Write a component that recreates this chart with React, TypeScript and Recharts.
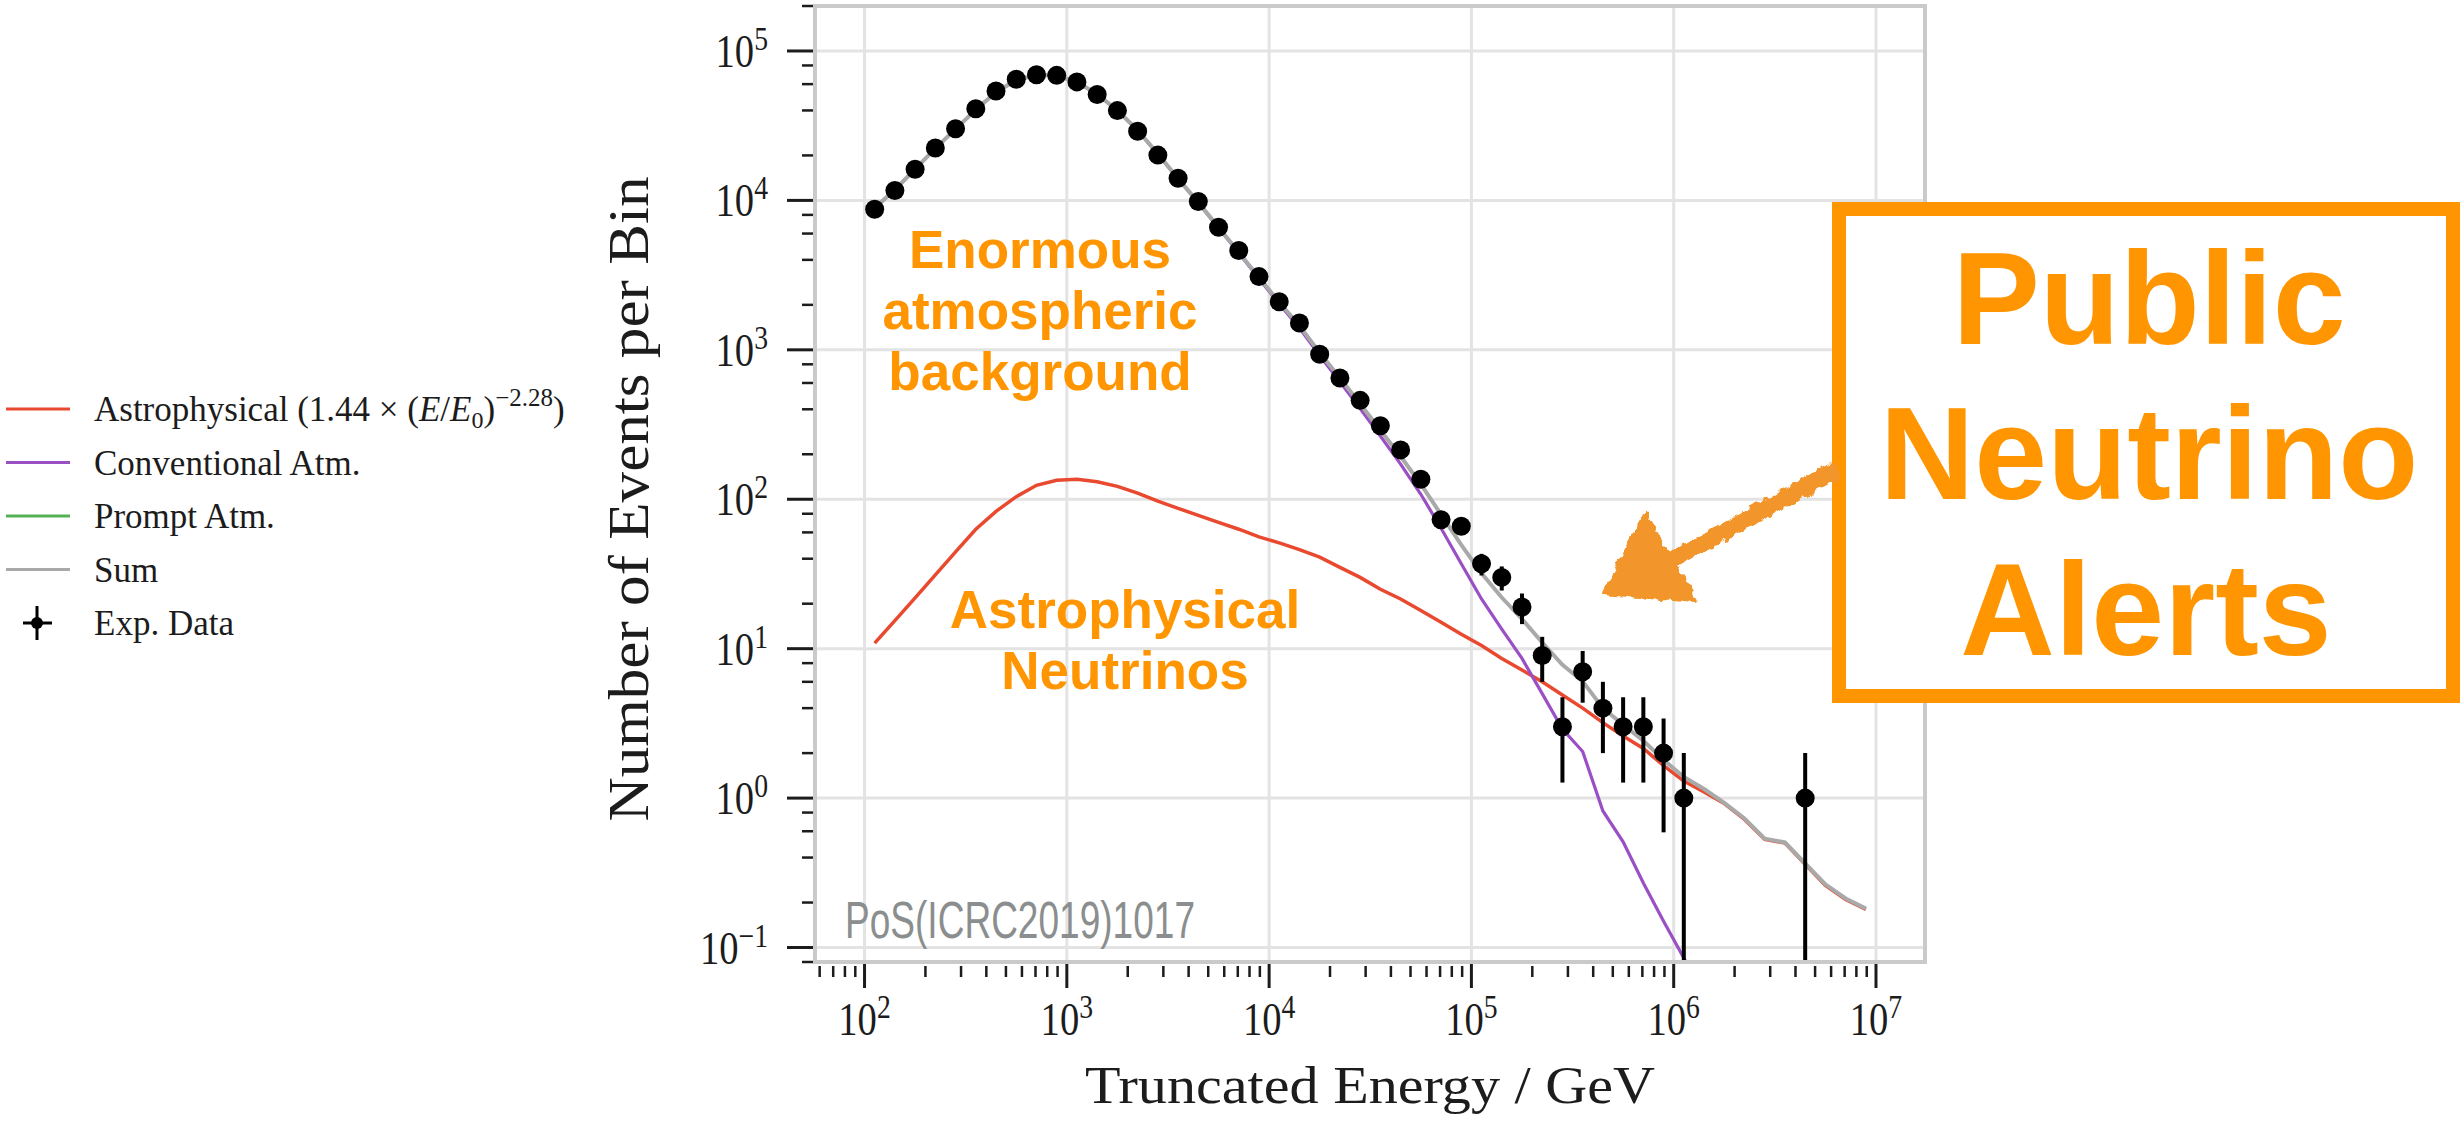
import React from "react";
import {
  ComposedChart,
  Line,
  Scatter,
  ErrorBar,
  XAxis,
  YAxis,
  CartesianGrid,
} from "recharts";

// log10 of the bin centres (GeV), 0.1-decade bins
const binLog = [
  2.05, 2.15, 2.25, 2.35, 2.45, 2.55, 2.65, 2.75, 2.85, 2.95,
  3.05, 3.15, 3.25, 3.35, 3.45, 3.55, 3.65, 3.75, 3.85, 3.95,
  4.05, 4.15, 4.25, 4.35, 4.45, 4.55, 4.65, 4.75, 4.85, 4.95,
  5.05, 5.15, 5.25, 5.35, 5.45, 5.55, 5.65, 5.75, 5.85, 5.95,
  6.05, 6.15, 6.25, 6.35, 6.45, 6.55, 6.65, 6.75, 6.85, 6.95,
];

const astroCounts = [
  10.9, 15.4, 21.9, 31.2, 44.4, 63, 83, 104, 124, 134,
  136, 131, 122, 110, 97, 87, 78, 70, 63, 56,
  51, 46, 41, 35, 30, 25, 21.5, 18, 15, 12.5,
  10.5, 8.6, 7.2, 6.0, 4.9, 4.0, 3.2, 2.6, 2.15, 1.65,
  1.3, 1.1, 0.92, 0.72, 0.53, 0.5, 0.36, 0.26, 0.21, 0.18,
];

// conventional atmospheric, runs off the bottom of the plot after 10^6
const convCounts = [
  8890, 11780, 16180, 22270, 29960, 40440, 52920, 63900, 68880, 68370,
  61870, 51370, 39880, 29390, 20400, 13910, 9620, 6530, 4440, 2990,
  2030, 1400, 915, 612, 405, 265, 172, 108, 64, 37,
  21.5, 13.5, 8.6, 5.0, 2.9, 2.05, 0.82, 0.51, 0.27, 0.15,
  0.085, 0.05,
];

const sumCounts = [
  8900, 11800, 16200, 22300, 30000, 40500, 53000, 64000, 69000, 68500,
  62000, 51500, 40000, 29500, 20500, 14000, 9700, 6600, 4500, 3050,
  2080, 1450, 956, 647, 435, 290, 194, 126, 79, 49.5,
  32, 22, 15.8, 11, 7.8, 6.05, 4.0, 3.1, 2.42, 1.8,
  1.385, 1.15, 0.93, 0.73, 0.535, 0.505, 0.365, 0.265, 0.213, 0.182,
];

const expLog = [
  2.05, 2.15, 2.25, 2.35, 2.45, 2.55, 2.65, 2.75, 2.85, 2.95,
  3.05, 3.15, 3.25, 3.35, 3.45, 3.55, 3.65, 3.75, 3.85, 3.95,
  4.05, 4.15, 4.25, 4.35, 4.45, 4.55, 4.65, 4.75, 4.85, 4.95,
  5.05, 5.15, 5.25, 5.35, 5.45, 5.55, 5.65, 5.75, 5.85, 5.95,
  6.05, 6.65,
];

const expCounts = [
  8730, 11640, 16180, 22440, 30200, 41100, 54000, 64700, 69400, 68700,
  62100, 51100, 39900, 29000, 20100, 14060, 9820, 6620, 4620, 3090,
  2100, 1510, 935, 647, 459, 310, 214, 136, 73, 66,
  37, 30, 19, 9, 3, 7, 4, 3, 3, 2,
  1, 1,
];

// error bars (down / up); hidden under the dots for the big bins
const expErrLow = [
  0, 0, 0, 0, 0, 0, 0, 0, 0, 0,
  0, 0, 0, 0, 0, 0, 0, 0, 0, 0,
  0, 0, 0, 0, 0, 0, 0, 0, 8.5, 8.1,
  6.1, 5.5, 4.4, 3.0, 1.73, 2.65, 2.0, 1.73, 1.73, 1.41,
  0.92, 0.92,
];
const expErrHigh = [
  0, 0, 0, 0, 0, 0, 0, 0, 0, 0,
  0, 0, 0, 0, 0, 0, 0, 0, 0, 0,
  0, 0, 0, 0, 0, 0, 0, 0, 8.5, 8.1,
  6.1, 5.5, 4.4, 3.0, 1.73, 2.65, 2.0, 1.73, 1.73, 1.41,
  1.0, 1.0,
];

const xMajorTicks = [1e2, 1e3, 1e4, 1e5, 1e6, 1e7];
const yMajorTicks = [1e-1, 1, 1e1, 1e2, 1e3, 1e4, 1e5];
const xMinorSubs = [2, 3, 4, 5, 6, 7, 8, 9];
const yMinorSubs = [2, 4, 6, 8];

const xDomain = [56.9, 1.747e7];
const yDomain = [0.08, 2e5];

const RED = "#e9492f";
const PURPLE = "#9a4fc4";
const GREEN = "#55b155";
const GRAY = "#a9a9a9";
const ORANGE = "#ff9500";
const INK = "#1c1c1c";
const SERIF = "'Liberation Serif', 'Times New Roman', serif";
const SANS = "'Liberation Sans', Arial, sans-serif";

function minorTicks(subs: number[], from: number, to: number, dom: number[]) {
  const out: number[] = [];
  for (let d = from; d <= to; d++) {
    for (const s of subs) {
      const v = s * Math.pow(10, d);
      if (v >= dom[0] * 0.999 && v <= dom[1] * 1.001) out.push(v);
    }
  }
  return out;
}

const xTicks = [...xMajorTicks, ...minorTicks(xMinorSubs, 1, 7, xDomain)].sort((a, b) => a - b);
const yTicks = [...yMajorTicks, ...minorTicks(yMinorSubs, -2, 5, yDomain)].sort((a, b) => a - b);

function isMajor(v: number) {
  const l = Math.log10(v);
  return Math.abs(l - Math.round(l)) < 1e-6;
}

function expText(v: number) {
  const e = Math.round(Math.log10(v));
  return e < 0 ? "\u2212" + Math.abs(e) : String(e);
}

function XTick(props: any) {
  const { x, y, payload } = props;
  const v = payload.value;
  if (!isMajor(v)) {
    return <line x1={x} x2={x} y1={y + 4} y2={y + 15} stroke={INK} strokeWidth={2.5} />;
  }
  return (
    <g>
      <line x1={x} x2={x} y1={y} y2={y + 26} stroke={INK} strokeWidth={3} />
      <g transform={`translate(${x},${y + 73}) scale(0.84,1)`}>
        <text textAnchor="middle" fontFamily={SERIF} fontSize={46} fill={INK}>
          10
          <tspan dy={-17} fontSize={33}>
            {expText(v)}
          </tspan>
        </text>
      </g>
    </g>
  );
}

function YTick(props: any) {
  const { x, y, payload } = props;
  const v = payload.value;
  if (!isMajor(v)) {
    return <line x1={x - 13} x2={x} y1={y} y2={y} stroke={INK} strokeWidth={2.5} />;
  }
  return (
    <g>
      <line x1={x - 28} x2={x} y1={y} y2={y} stroke={INK} strokeWidth={3} />
      <g transform={`translate(${x - 47},${y + 16}) scale(0.84,1)`}>
        <text textAnchor="end" fontFamily={SERIF} fontSize={46} fill={INK}>
          10
          <tspan dy={-17} fontSize={33}>
            {expText(v)}
          </tspan>
        </text>
      </g>
    </g>
  );
}

const legendRows = [
  { key: "astro", color: RED },
  { key: "conv", color: PURPLE, label: "Conventional Atm." },
  { key: "prompt", color: GREEN, label: "Prompt Atm." },
  { key: "sum", color: GRAY, label: "Sum" },
  { key: "exp", color: "#000", label: "Exp. Data" },
];

export default function App() {
  const astroData = binLog.map((l, i) => ({ x: 10 ** l, y: astroCounts[i] }));
  const convData = convCounts.map((c, i) => ({ x: 10 ** binLog[i], y: c }));
  const sumData = binLog.map((l, i) => ({ x: 10 ** l, y: sumCounts[i] }));
  const expData = expLog.map((l, i) => ({
    x: 10 ** l,
    y: expCounts[i],
    err: [expErrLow[i], expErrHigh[i]],
  }));

  return (
    <div style={{ position: "absolute", left: 0, top: 0, width: 2460, height: 1122, background: "#fff" }}>
      <ComposedChart width={2460} height={1122} margin={{ top: 6, right: 535, bottom: 40, left: 615 }}>
        <CartesianGrid
          horizontalValues={yMajorTicks}
          verticalValues={xMajorTicks}
          stroke="#e3e3e3"
          strokeWidth={3}
        />
        <XAxis
          type="number"
          dataKey="x"
          scale="log"
          domain={xDomain}
          allowDataOverflow
          ticks={xTicks}
          interval={0}
          tick={(p: any) => <XTick {...p} />}
          tickSize={0}
          tickMargin={0}
          tickLine={false}
          axisLine={false}
          height={120}
        />
        <YAxis
          type="number"
          dataKey="y"
          scale="log"
          domain={yDomain}
          allowDataOverflow
          ticks={yTicks}
          interval={0}
          tick={(p: any) => <YTick {...p} />}
          tickSize={0}
          tickMargin={0}
          tickLine={false}
          axisLine={false}
          width={200}
        />
        <Line data={astroData} dataKey="y" stroke={RED} strokeWidth={3.5} dot={false} activeDot={false} isAnimationActive={false} />
        <Line data={convData} dataKey="y" stroke={PURPLE} strokeWidth={3.2} dot={false} activeDot={false} isAnimationActive={false} />
        <Line data={sumData} dataKey="y" stroke={GRAY} strokeWidth={4} dot={false} activeDot={false} isAnimationActive={false} />
        <Scatter
          data={expData}
          dataKey="y"
          fill="#000"
          isAnimationActive={false}
          shape={(p: any) => <circle cx={p.cx} cy={p.cy} r={9.5} fill="#000" />}
        >
          <ErrorBar dataKey="err" direction="y" width={0} stroke="#000" strokeWidth={4} />
        </Scatter>
      </ComposedChart>

      <svg
        width={2460}
        height={1122}
        style={{ position: "absolute", left: 0, top: 0, pointerEvents: "none" }}
      >
        <defs>
          <filter id="rough" x="-20%" y="-20%" width="140%" height="140%">
            <feTurbulence type="fractalNoise" baseFrequency="0.12" numOctaves="2" seed="4" result="n" />
            <feDisplacementMap in="SourceGraphic" in2="n" scale="9" xChannelSelector="R" yChannelSelector="G" />
          </filter>
        </defs>

        {/* plot frame */}
        <rect x={815} y={6} width={1110} height={956} fill="none" stroke="#cacaca" strokeWidth={4} />

        {/* axis titles */}
        <text
          transform="translate(648,499) rotate(-90)"
          textAnchor="middle"
          fontFamily={SERIF}
          fontSize={58}
          fill={INK}
          textLength={645}
          lengthAdjust="spacingAndGlyphs"
        >
          Number of Events per Bin
        </text>
        <text
          x={1370}
          y={1103}
          textAnchor="middle"
          fontFamily={SERIF}
          fontSize={52}
          fill={INK}
          textLength={570}
          lengthAdjust="spacingAndGlyphs"
        >
          Truncated Energy / GeV
        </text>

        {/* source tag */}
        <text x={845} y={938} fontFamily={SANS} fontSize={52} fill="#8b8e8e" textLength={350} lengthAdjust="spacingAndGlyphs">
          PoS(ICRC2019)1017
        </text>

        {/* orange annotations */}
        <g fontFamily={SANS} fontWeight="bold" fontSize={53} fill={ORANGE} textAnchor="middle">
          <text x={1040} y={268}>Enormous</text>
          <text x={1040} y={329}>atmospheric</text>
          <text x={1040} y={390}>background</text>
          <text x={1125} y={628}>Astrophysical</text>
          <text x={1125} y={689}>Neutrinos</text>
        </g>

        <rect x={1839} y={209} width={614} height={487} fill="#fff" stroke={ORANGE} strokeWidth={14} />
        <g fontFamily={SANS} fontWeight="bold" fontSize={131} fill={ORANGE} textAnchor="middle">
          <text x={2149} y={344}>Public</text>
          <text x={2149} y={499}>Neutrino</text>
          <text x={2146} y={655}>Alerts</text>
        </g>

        {/* hand-drawn arrow */}
        <g filter="url(#rough)" fill="#f2952a" stroke="#f2952a">
          <line x1={1678} y1={557} x2={1832} y2={472} strokeWidth={17} strokeLinecap="round" />
          <polygon points="1645,515 1604,593 1696,601" strokeWidth={4} strokeLinejoin="round" />
        </g>

        {/* legend */}
        <g fontFamily={SERIF} fontSize={35} fill={INK}>
          {legendRows.map((r, i) => {
            const cy = 409 + i * 53.5;
            if (r.key === "exp") {
              return (
                <g key={r.key}>
                  <line x1={37} x2={37} y1={cy - 17} y2={cy + 17} stroke="#000" strokeWidth={3} />
                  <line x1={23} x2={52} y1={cy} y2={cy} stroke="#000" strokeWidth={3} />
                  <circle cx={37} cy={cy} r={6} fill="#000" />
                  <text x={94} y={cy + 12}>{r.label}</text>
                </g>
              );
            }
            return (
              <g key={r.key}>
                <line x1={6} x2={70} y1={cy} y2={cy} stroke={r.color} strokeWidth={3} />
                {r.key === "astro" ? (
                  <text x={94} y={cy + 12}>
                    Astrophysical (1.44 × (<tspan fontStyle="italic">E</tspan>/<tspan fontStyle="italic">E</tspan>
                    <tspan fontSize={24} dy={7}>0</tspan>
                    <tspan dy={-7}>)</tspan>
                    <tspan fontSize={25} dy={-15}>{"\u22122.28"}</tspan>
                    <tspan dy={15}>)</tspan>
                  </text>
                ) : (
                  <text x={94} y={cy + 12}>{r.label}</text>
                )}
              </g>
            );
          })}
        </g>
      </svg>
    </div>
  );
}
